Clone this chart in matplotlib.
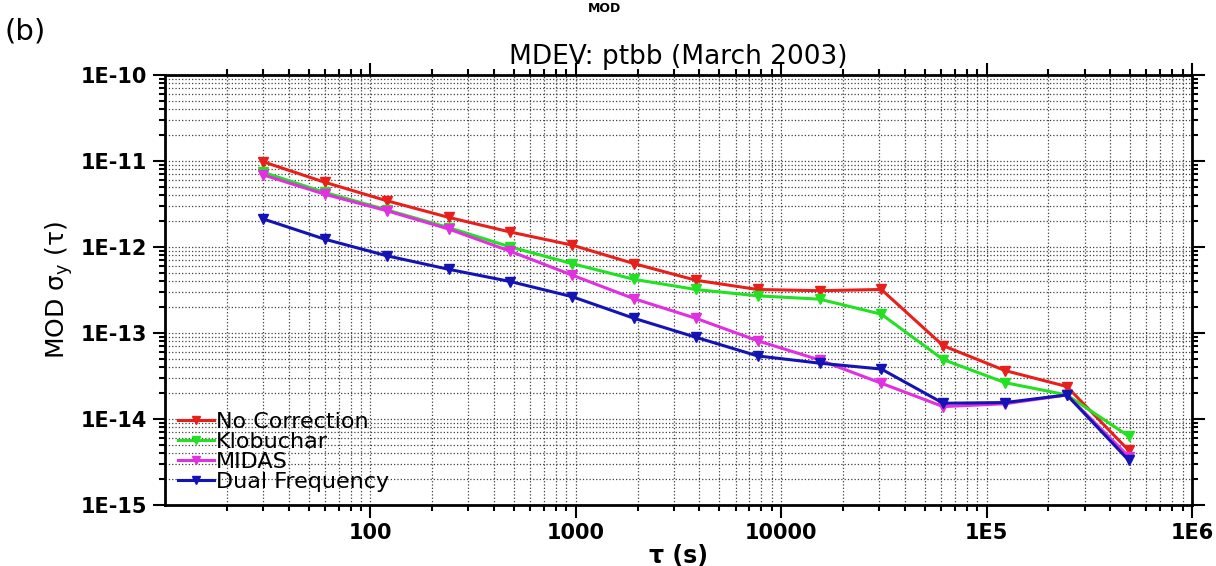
import numpy as np
import matplotlib
matplotlib.use('Agg')
import matplotlib.pyplot as plt
from matplotlib.ticker import LogLocator, FixedLocator, FixedFormatter, NullFormatter

# averaging times (s)
tau = [30, 60, 120, 240, 480, 960, 1920, 3840, 7680, 15360, 30720, 61440, 122880, 245760, 491520]

no_corr = [9.8e-12, 5.65e-12, 3.45e-12, 2.21e-12, 1.49e-12, 1.05e-12, 6.4e-13, 4.1e-13,
           3.2e-13, 3.1e-13, 3.2e-13, 7.1e-14, 3.65e-14, 2.38e-14, 4.3e-15]
klobuchar = [7.4e-12, 4.3e-12, 2.7e-12, 1.68e-12, 1.0e-12, 6.4e-13, 4.2e-13, 3.2e-13,
             2.7e-13, 2.47e-13, 1.65e-13, 4.9e-14, 2.64e-14, 1.9e-14, 6.3e-15]
midas = [6.9e-12, 4.1e-12, 2.64e-12, 1.62e-12, 8.9e-13, 4.7e-13, 2.5e-13, 1.48e-13,
         8.1e-14, 4.85e-14, 2.6e-14, 1.39e-14, 1.5e-14, 1.9e-14, 3.65e-15]
dual_freq = [2.12e-12, 1.23e-12, 7.9e-13, 5.5e-13, 3.96e-13, 2.64e-13, 1.48e-13, 8.9e-14,
             5.4e-14, 4.45e-14, 3.8e-14, 1.52e-14, 1.55e-14, 1.9e-14, 3.3e-15]

series = [('No Correction', no_corr, '#e8201c'),
          ('Klobuchar', klobuchar, '#22e022'),
          ('MIDAS', midas, '#e030e0'),
          ('Dual Frequency', dual_freq, '#1414b4')]

xticks = [100, 1000, 10000, 1e5, 1e6]
xtick_labels = ['100', '1000', '10000', '1E5', '1E6']
yticks = [1e-15, 1e-14, 1e-13, 1e-12, 1e-11, 1e-10]
ytick_labels = ['1E-15', '1E-14', '1E-13', '1E-12', '1E-11', '1E-10']

fig = plt.figure(figsize=(12.16, 5.66), dpi=100)
ax = fig.add_axes([0.1357, 0.108, 0.9803 - 0.1357, 0.8675 - 0.108])

for name, vals, col in series:
    ax.plot(tau, vals, color=col, lw=2.2, marker='v', ms=7, label=name)

ax.set_xscale('log')
ax.set_yscale('log')
ax.set_xlim(10, 1e6)
ax.set_ylim(1e-15, 1e-10)

ax.xaxis.set_major_locator(FixedLocator(xticks))
ax.xaxis.set_major_formatter(FixedFormatter(xtick_labels))
ax.yaxis.set_major_locator(FixedLocator(yticks))
ax.yaxis.set_major_formatter(FixedFormatter(ytick_labels))
ax.xaxis.set_minor_locator(LogLocator(base=10, subs=np.arange(2, 10), numticks=20))
ax.yaxis.set_minor_locator(LogLocator(base=10, subs=np.arange(2, 10), numticks=20))
ax.xaxis.set_minor_formatter(NullFormatter())
ax.yaxis.set_minor_formatter(NullFormatter())

ax.tick_params(which='both', direction='out', top=True, right=True, width=1.5)
ax.tick_params(which='major', length=9, labelsize=15, pad=4)
ax.tick_params(which='minor', length=4)
for lab in ax.get_xticklabels() + ax.get_yticklabels():
    lab.set_fontweight('bold')
for sp in ax.spines.values():
    sp.set_linewidth(2)

ax.grid(True, which='both', color='0.25', ls=':', lw=0.9)
ax.set_axisbelow(True)

ax.set_title('MDEV: ptbb (March 2003)', fontsize=19, pad=8)
ax.set_xlabel('τ (s)', fontsize=17, fontweight='bold', labelpad=1)
ax.set_ylabel(r'MOD $\mathregular{\sigma_y}$ ($\mathregular{\tau}$)', fontsize=18, labelpad=4)

fig.text(0.004, 0.93, '(b)', fontsize=21)
fig.text(0.497, 0.985, 'MOD', fontsize=9, fontweight='bold', ha='center', va='center')

leg = ax.legend(loc='lower left', frameon=False, fontsize=16, handlelength=1.6,
                handletextpad=0.1, labelspacing=0.0, borderaxespad=0.5,
                borderpad=0.1, markerscale=0.8)

fig.savefig('out.png', dpi=100)
